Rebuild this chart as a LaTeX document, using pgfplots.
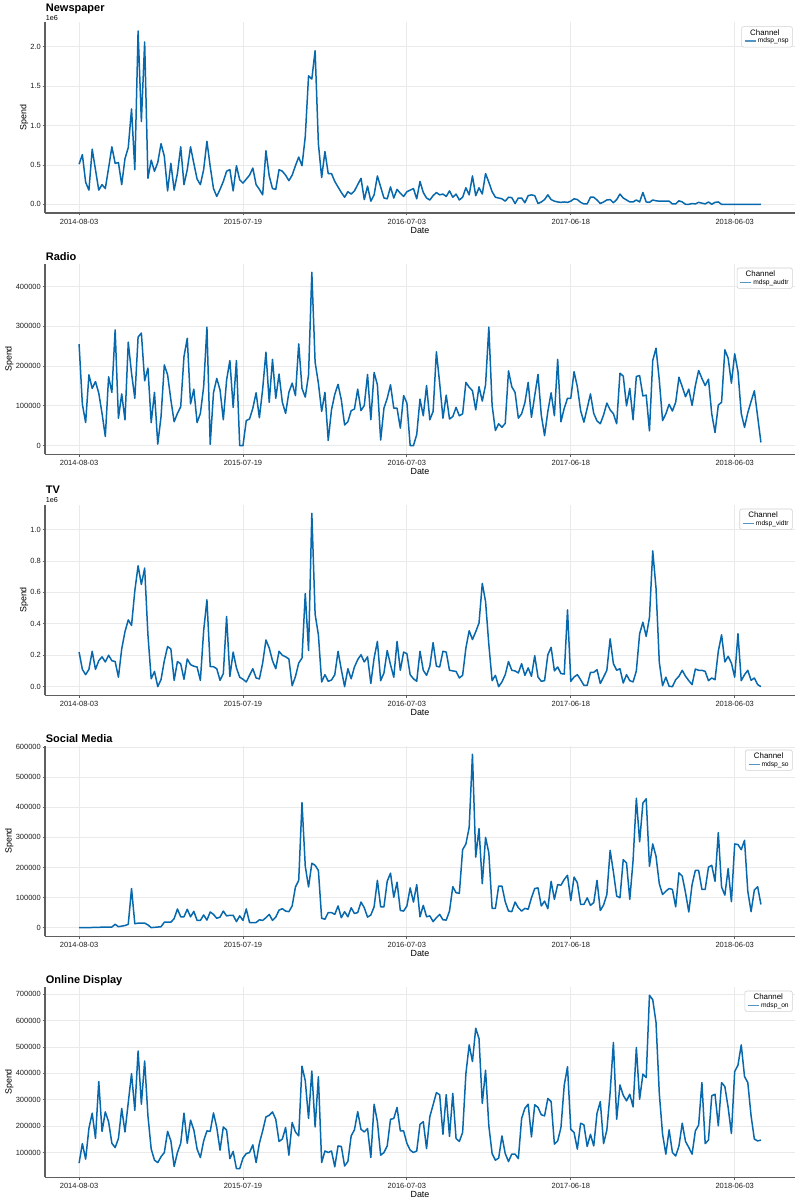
\documentclass[border=0pt]{standalone}
\usepackage{fontspec}
\setmainfont{Liberation Sans}
\usepackage{pgfplots}
\usepackage{pgfplotstable}
\pgfplotsset{compat=1.18}
\definecolor{linec}{RGB}{8,104,172}
\definecolor{spine}{RGB}{95,95,95}
\definecolor{gridc}{RGB}{234,234,234}

% Newspaper (values in 1e6)
\pgfplotstableread[row sep=\\]{v\\
0.51\\0.63\\0.28\\0.18\\0.70\\0.44\\0.18\\0.25\\0.20\\0.46\\
0.73\\0.52\\0.53\\0.25\\0.58\\0.72\\1.21\\0.44\\2.20\\1.05\\
2.06\\0.33\\0.56\\0.42\\0.53\\0.77\\0.61\\0.17\\0.52\\0.18\\
0.39\\0.73\\0.25\\0.44\\0.73\\0.52\\0.32\\0.25\\0.44\\0.80\\
0.48\\0.20\\0.10\\0.19\\0.29\\0.42\\0.44\\0.17\\0.49\\0.31\\
0.27\\0.32\\0.37\\0.46\\0.25\\0.19\\0.12\\0.68\\0.36\\0.20\\
0.19\\0.44\\0.42\\0.37\\0.30\\0.37\\0.49\\0.60\\0.49\\0.86\\
1.63\\1.59\\1.95\\0.77\\0.34\\0.67\\0.39\\0.39\\0.29\\0.22\\
0.15\\0.09\\0.16\\0.13\\0.17\\0.25\\0.33\\0.06\\0.23\\0.04\\
0.12\\0.36\\0.22\\0.08\\0.07\\0.22\\0.08\\0.19\\0.14\\0.10\\
0.16\\0.18\\0.20\\0.07\\0.29\\0.15\\0.08\\0.055\\0.11\\0.15\\
0.12\\0.13\\0.10\\0.17\\0.09\\0.13\\0.055\\0.09\\0.21\\0.12\\
0.36\\0.11\\0.21\\0.13\\0.39\\0.28\\0.16\\0.09\\0.08\\0.07\\
0.04\\0.09\\0.085\\0.01\\0.08\\0.08\\0.02\\0.11\\0.12\\0.11\\
0.01\\0.03\\0.06\\0.12\\0.06\\0.04\\0.03\\0.025\\0.03\\0.025\\
0.04\\0.07\\0.06\\0.025\\0.005\\0.005\\0.09\\0.09\\0.055\\0.01\\
0.03\\0.055\\0.06\\0.02\\0.06\\0.13\\0.08\\0.055\\0.03\\0.03\\
0.055\\0.03\\0.15\\0.03\\0.025\\0.055\\0.045\\0.04\\0.04\\0.04\\
0.04\\0.005\\0.005\\0.045\\0.03\\0\\0\\0.01\\0.005\\0.025\\
0.015\\0.005\\0.03\\0\\0.025\\0.03\\0\\0\\0\\0\\
0\\0\\0\\0\\0\\0\\0\\0\\0\\
}\nsp

% Radio (values in thousands)
\pgfplotstableread[row sep=\\]{v\\
255\\104\\58\\178\\144\\161\\132\\81\\23\\173\\
134\\291\\69\\130\\65\\260\\182\\119\\273\\283\\
163\\195\\58\\134\\4\\73\\203\\178\\115\\60\\
81\\98\\224\\270\\105\\142\\58\\81\\148\\298\\
3\\133\\169\\140\\65\\165\\214\\96\\214\\0\\
0\\63\\67\\94\\133\\70\\142\\235\\109\\217\\
119\\180\\109\\81\\134\\157\\126\\256\\144\\122\\
178\\436\\210\\157\\86\\134\\13\\90\\129\\154\\
115\\52\\60\\88\\92\\142\\88\\101\\179\\65\\
184\\153\\14\\94\\119\\153\\94\\94\\44\\126\\
107\\0\\0\\28\\117\\75\\151\\65\\86\\236\\
157\\69\\127\\67\\73\\96\\75\\80\\159\\147\\
138\\90\\148\\112\\153\\298\\101\\38\\55\\46\\
56\\188\\148\\134\\69\\80\\108\\159\\71\\126\\
179\\77\\25\\86\\133\\75\\217\\60\\94\\119\\
119\\186\\148\\88\\59\\94\\130\\81\\62\\55\\
77\\107\\90\\80\\55\\182\\175\\100\\144\\65\\
174\\176\\125\\127\\37\\214\\245\\165\\63\\80\\
104\\87\\109\\172\\148\\123\\142\\101\\151\\189\\
169\\151\\167\\80\\33\\102\\109\\241\\220\\157\\
231\\186\\81\\46\\83\\111\\138\\73\\8\\
}\audtr

% TV (values in 1e6)
\pgfplotstableread[row sep=\\]{v\\
0.22\\0.11\\0.076\\0.11\\0.225\\0.11\\0.165\\0.19\\0.157\\0.20\\
0.165\\0.16\\0.06\\0.24\\0.35\\0.425\\0.39\\0.61\\0.77\\0.65\\
0.755\\0.33\\0.05\\0.097\\0.0\\0.045\\0.165\\0.255\\0.24\\0.04\\
0.16\\0.145\\0.047\\0.176\\0.14\\0.13\\0.125\\0.04\\0.356\\0.553\\
0.127\\0.127\\0.114\\0.04\\0.083\\0.447\\0.064\\0.22\\0.119\\0.06\\
0.047\\0.03\\0.072\\0.114\\0.055\\0.049\\0.15\\0.297\\0.246\\0.165\\
0.114\\0.225\\0.2\\0.19\\0.176\\0.006\\0.064\\0.15\\0.182\\0.593\\
0.23\\1.104\\0.462\\0.33\\0.03\\0.076\\0.034\\0.042\\0.076\\0.225\\
0.108\\0\\0.114\\0.05\\0.125\\0.172\\0.203\\0.157\\0.19\\0.02\\
0.182\\0.288\\0.038\\0.087\\0.23\\0.14\\0.06\\0.288\\0.104\\0.22\\
0.21\\0.076\\0.05\\0.034\\0.225\\0.104\\0.072\\0.13\\0.28\\0.13\\
0.125\\0.225\\0.22\\0.104\\0.10\\0.097\\0.055\\0.072\\0.246\\0.356\\
0.3\\0.35\\0.405\\0.657\\0.542\\0.267\\0.038\\0.072\\0\\0.03\\
0.076\\0.16\\0.104\\0.10\\0.087\\0.146\\0.072\\0.119\\0.066\\0.197\\
0.061\\0.034\\0.038\\0.203\\0.25\\0.10\\0.125\\0.083\\0.08\\0.489\\
0.034\\0.061\\0.076\\0.044\\0.008\\0.008\\0.091\\0.091\\0.108\\0.02\\
0.061\\0.104\\0.305\\0.146\\0.104\\0.114\\0.023\\0.076\\0.038\\0.03\\
0.10\\0.337\\0.41\\0.32\\0.44\\0.864\\0.627\\0.155\\0.006\\0.06\\
0.002\\0\\0.044\\0.066\\0.104\\0.066\\0.038\\0.013\\0.112\\0.104\\
0.104\\0.097\\0.038\\0.055\\0.044\\0.225\\0.33\\0.157\\0.193\\0.15\\
0.06\\0.337\\0.038\\0.076\\0.104\\0.04\\0.055\\0.013\\0.0\\
}\vidtr

% Social Media (values in thousands)
\pgfplotstableread[row sep=\\]{v\\
0\\0\\0\\0\\0.5\\1\\1\\1.5\\2\\2\\
2\\11\\3\\5\\7\\11\\130\\13\\15\\15\\
15\\9\\0\\1\\2\\3\\18\\18\\18\\30\\
62\\36\\36\\61\\36\\54\\24\\24\\42\\25\\
52\\44\\31\\35\\55\\39\\41\\41\\20\\39\\
24\\62\\17\\17\\17\\26\\24\\33\\44\\24\\
35\\58\\63\\55\\53\\72\\135\\157\\415\\204\\
135\\214\\207\\190\\31\\28\\50\\50\\44\\72\\
33\\53\\36\\66\\47\\50\\85\\66\\35\\42\\
69\\157\\69\\69\\154\\181\\101\\151\\57\\55\\
72\\132\\85\\143\\
36\\74\\36\\39\\20\\33\\44\\26\\25\\55\\
136\\116\\114\\259\\278\\333\\576\\234\\329\\146\\
300\\248\\64\\64\\138\\138\\86\\55\\53\\85\\
66\\55\\64\\61\\99\\130\\132\\72\\88\\63\\
154\\94\\143\\141\\160\\174\\90\\168\\149\\77\\
77\\99\\74\\83\\157\\57\\75\\110\\257\\185\\
105\\99\\226\\215\\94\\223\\430\\285\\414\\428\\
204\\278\\237\\146\\110\\121\\130\\127\\69\\182\\
171\\116\\52\\143\\190\\190\\127\\127\\201\\207\\
154\\316\\135\\108\\196\\86\\278\\276\\259\\290\\
121\\53\\125\\136\\77\\
}\so

% Online Display (values in thousands)
\pgfplotstableread[row sep=\\]{v\\
60\\134\\75\\192\\249\\154\\369\\180\\254\\217\\
135\\119\\153\\267\\178\\289\\399\\260\\485\\283\\
447\\239\\113\\71\\62\\84\\100\\180\\144\\47\\
100\\135\\249\\135\\223\\186\\113\\81\\144\\182\\
180\\250\\195\\109\\197\\185\\77\\104\\39\\39\\
79\\96\\100\\129\\62\\135\\182\\235\\241\\254\\
226\\142\\151\\195\\90\\214\\178\\163\\427\\372\\
229\\409\\197\\387\\62\\106\\100\\106\\46\\125\\
123\\49\\66\\163\\186\\255\\188\\178\\191\\81\\
283\\217\\90\\100\\125\\226\\229\\271\\182\\182\\
135\\109\\100\\106\\207\\
217\\115\\236\\281\\327\\319\\169\\319\\161\\324\\
153\\142\\176\\399\\508\\445\\571\\532\\286\\412\\
201\\96\\71\\79\\163\\96\\66\\94\\94\\77\\
229\\268\\283\\159\\281\\271\\243\\239\\305\\293\\
132\\144\\195\\355\\425\\188\\176\\113\\211\\205\\
123\\169\\125\\249\\293\\134\\185\\327\\517\\226\\
356\\317\\296\\321\\273\\498\\302\\397\\384\\696\\
679\\593\\324\\169\\94\\186\\100\\87\\125\\211\\
142\\119\\94\\182\\204\\365\\134\\147\\315\\321\\
201\\365\\350\\271\\172\\407\\431\\508\\388\\365\\
239\\151\\144\\147\\
}\on

\pgfplotsset{
  panel/.style={
    scale only axis, width=750pt, height=190.7pt,
    anchor=south west,
    xmin=-10.4, xmax=218.4,
    xtick={0,50,100,150,200},
    xticklabels={2014-08-03,2015-07-19,2016-07-03,2017-06-18,2018-06-03},
    axis x line*=bottom, axis y line*=left,
    axis line style={draw=spine, line width=1.2pt},
    tick style={draw=spine, line width=0.8pt},
    tick align=outside, major tick length=2.5pt,
    grid=major, major grid style={draw=gridc, line width=0.8pt},
    tick label style={font=\fontsize{7.5}{9}\selectfont, text=black!88},
    yticklabel style={inner sep=1.5pt},
    label style={font=\fontsize{8.9}{10}\selectfont},
    xlabel={Date}, ylabel={Spend},
    xlabel style={yshift=4pt},
    ylabel style={inner sep=0.5pt},
    legend style={at={(1,1)}, anchor=north east, xshift=-2.3pt, yshift=-4.1pt,
      draw=black!18, line width=0.6pt, rounded corners=2pt, fill=white,
      font=\fontsize{6.7}{8}\selectfont, inner xsep=2.5pt, inner ysep=1.5pt,
      nodes={inner sep=1.2pt}, row sep=-1pt},
    legend cell align=left,
    legend image code/.code={\draw[#1, line width=1.5pt, draw=linec!70] (0pt,0pt) -- (11pt,0pt);},
  },
  ser/.style={draw=linec, line width=1.5pt, line join=round, mark=none},
  ttlhigh/.style={every axis title/.style={at={(0,1)}, anchor=base west, inner sep=0pt, xshift=0.7pt, yshift=10.7pt, font=\bfseries\fontsize{11}{13}\selectfont}},
  ttllow/.style={every axis title/.style={at={(0,1)}, anchor=base west, inner sep=0pt, xshift=0.7pt, yshift=2.7pt, font=\bfseries\fontsize{11}{13}\selectfont}},
  offsetlbl/.style={extra description/.code={\node[anchor=base west, inner sep=0pt, font=\fontsize{7.2}{8}\selectfont, xshift=0.7pt, yshift=1.9pt] at (0,1) {1e6};}},
}
\newcommand\chan{\addlegendimage{empty legend}\addlegendentry{\hspace*{-7.6pt}\fontsize{7.9}{9}\selectfont Channel}}

\begin{document}
\begin{tikzpicture}
\path[use as bounding box] (0,0) rectangle (800pt,1204pt);

\begin{axis}[panel, ttlhigh, offsetlbl, at={(45pt,991pt)},
  title={Newspaper}, ymin=-0.11, ymax=2.31,
  ytick={0,0.5,1,1.5,2}, yticklabels={0.0,0.5,1.0,1.5,2.0}]
\chan
\addplot[ser] table[x expr=\coordindex, y=v] {\nsp};
\addlegendentry{mdsp\_nsp}
\end{axis}

\begin{axis}[panel, ttllow, at={(45pt,749.7pt)},
  title={Radio}, ymin=-21.8, ymax=457.8,
  ytick={0,100,200,300,400}, yticklabels={0,100000,200000,300000,400000}]
\chan
\addplot[ser] table[x expr=\coordindex, y=v] {\audtr};
\addlegendentry{mdsp\_audtr}
\end{axis}

\begin{axis}[panel, ttlhigh, offsetlbl, at={(45pt,508.7pt)},
  title={TV}, ymin=-0.0552, ymax=1.1592,
  ytick={0,0.2,0.4,0.6,0.8,1.0}, yticklabels={0.0,0.2,0.4,0.6,0.8,1.0}]
\chan
\addplot[ser] table[x expr=\coordindex, y=v] {\vidtr};
\addlegendentry{mdsp\_vidtr}
\end{axis}

\begin{axis}[panel, ttllow, at={(45pt,267.7pt)},
  title={Social Media}, ymin=-28.8, ymax=604.8,
  ytick={0,100,200,300,400,500,600}, yticklabels={0,100000,200000,300000,400000,500000,600000}]
\chan
\addplot[ser] table[x expr=\coordindex, y=v] {\so};
\addlegendentry{mdsp\_so}
\end{axis}

\begin{axis}[panel, ttllow, at={(45pt,26.7pt)},
  title={Online Display}, ymin=6.15, ymax=728.85,
  ytick={100,200,300,400,500,600,700}, yticklabels={100000,200000,300000,400000,500000,600000,700000}]
\chan
\addplot[ser] table[x expr=\coordindex, y=v] {\on};
\addlegendentry{mdsp\_on}
\end{axis}
\end{tikzpicture}
\end{document}
